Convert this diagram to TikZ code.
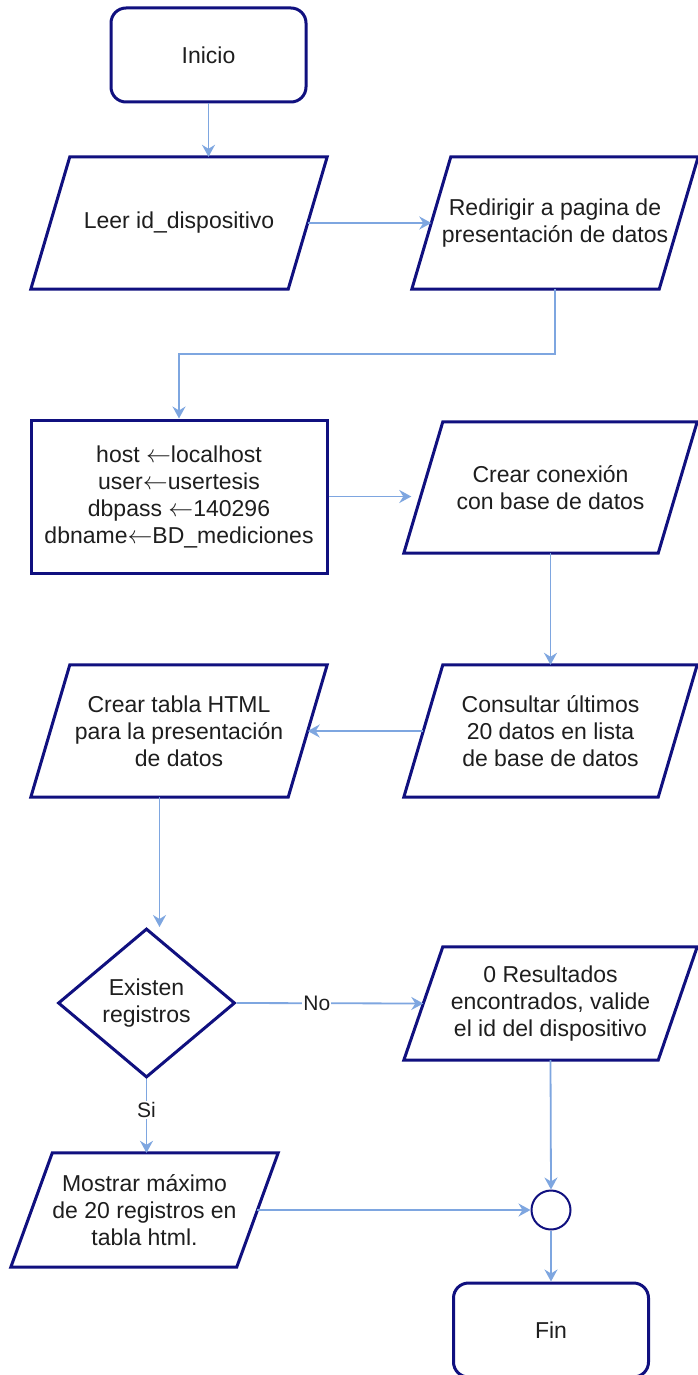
\documentclass[tikz,border=0pt]{standalone}
\usepackage{fontspec}
\setmainfont{Liberation Sans}
\usetikzlibrary{shapes.geometric,arrows.meta,calc}
\definecolor{frame}{HTML}{10107F}
\definecolor{flow}{HTML}{7EA6E0}
\definecolor{ink}{HTML}{1E1E1E}
% outline of a data (input/output) box: the node #1 is the body measured
% between the midpoints of its slanted sides, #2 is the horizontal slant
\newcommand{\ioframe}[2]{%
  \draw[outline]
    ([xshift=-#2/2]#1.south west) -- ([xshift=#2/2]#1.north west) --
    ([xshift=#2/2]#1.north east) -- ([xshift=-#2/2]#1.south east) -- cycle;}
\begin{document}
\begin{tikzpicture}[x=1pt,y=-1pt,
  outline/.style={draw=frame,line width=3pt},
  txt/.style={text=ink,font=\fontsize{23}{27}\selectfont,align=center,
    inner sep=0pt},
  base/.style={txt,outline,fill=white},
  terminal/.style={base,rectangle,rounded corners=15pt,
    minimum width=195pt,minimum height=94pt},
  process/.style={base,rectangle,minimum width=296pt,minimum height=153pt},
  io/.style={txt,rectangle},
  decision/.style={base,diamond,minimum width=177pt,minimum height=149pt},
  junction/.style={draw=frame,line width=2pt,fill=white,circle,
    minimum size=39pt,inner sep=0pt},
  flowline/.style={draw=flow,line width=1.8pt,
    -{Stealth[length=12pt,width=13pt,inset=4pt]}},
  edgelabel/.style={fill=white,inner sep=1pt,text=ink,
    font=\fontsize{21}{24}\selectfont}]

\fill[white] (0,0) rectangle (698,1375);
\useasboundingbox (0,0) rectangle (698,1375);

% shapes
\node[terminal] (ini) at (208.5,55) {Inicio};
\node[io,minimum width=257pt,minimum height=132pt] (leer) at (179,223)
  {Leer id\_dispositivo};
\ioframe{leer}{39}
\node[io,minimum width=247pt,minimum height=132pt] (redir) at (555,223)
  {Redirigir a pagina de\\presentación de datos};
\ioframe{redir}{39}
\node[process] (host) at (179,496.5)
  {host $\leftarrow$localhost\\user$\leftarrow$usertesis\\
   dbpass $\leftarrow$140296\\dbname$\leftarrow$BD\_mediciones};
\node[io,minimum width=254pt,minimum height=131pt] (conex) at (550.5,487.5)
  {Crear conexión\\con base de datos};
\ioframe{conex}{39}
\node[io,minimum width=254pt,minimum height=132pt] (consul) at (550.5,731)
  {Consultar últimos\\20 datos en lista\\de base de datos};
\ioframe{consul}{39}
\node[io,minimum width=257pt,minimum height=132pt] (tabla) at (179,731)
  {Crear tabla HTML\\para la presentación\\de datos};
\ioframe{tabla}{39}
\node[decision] (dia) at (146.5,1003) {Existen\\registros};
\node[io,minimum width=254pt,minimum height=113pt] (res) at (550.5,1003.5)
  {0 Resultados\\encontrados, valide\\el id del dispositivo};
\ioframe{res}{39}
\node[io,minimum width=225.5pt,minimum height=114pt] (mostrar) at (144.5,1210)
  {Mostrar máximo\\de 20 registros en\\tabla html.};
\ioframe{mostrar}{41.5}
\node[junction] (join) at (551,1210) {};
\node[terminal] (fin) at (551,1330) {Fin};

% connectors
\coordinate (mid) at ($(redir.south)!0.5!(host.north)$);
\coordinate (tablaout) at ([xshift=-19.5]tabla.south);
\draw[flowline] (ini.south) -- (ini.south |- leer.north);
\draw[flowline] (leer.east) -- (redir.west);
\draw[flowline] (redir.south) -- (redir.south |- mid) -| (host.north);
\draw[flowline,shorten >=12pt] (host.east) -- (host.east -| conex.west);
\draw[flowline] (conex.south) -- (consul.north);
\draw[flowline] (consul.west) -- (tabla.east);
\draw[flowline] (tablaout) -- (tablaout |- dia.north);
\draw[flowline] (dia.east) -- node[edgelabel,pos=0.43] {No} (res.west);
\draw[flowline] (dia.south) -- node[edgelabel,pos=0.42] {Si}
  (dia.south |- mostrar.north);
\draw[flowline] (res.south) -- (join.north);
\draw[flowline] (mostrar.east) -- (join.west);
\draw[flowline] (join.south) -- (fin.north);
\end{tikzpicture}
\end{document}
